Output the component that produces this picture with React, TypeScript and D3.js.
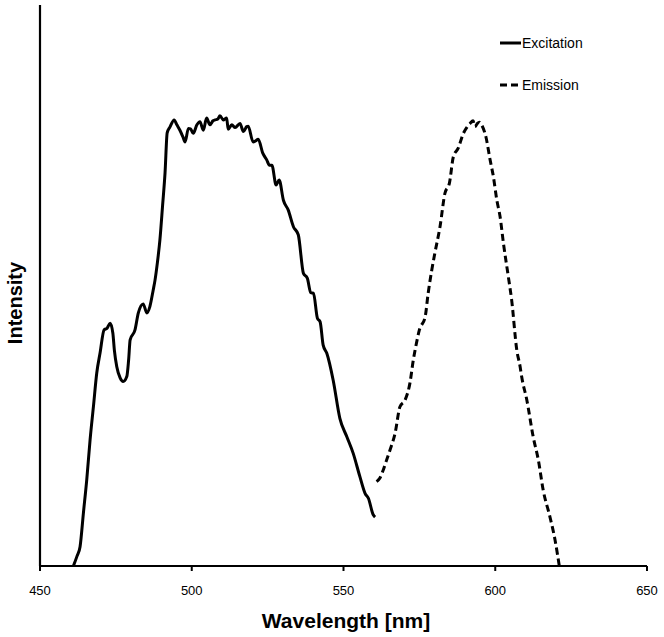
import React from "react";
import * as d3 from "d3";

const excitationNm = [461.0, 462.2, 463.2, 464.3, 465.4, 466.5, 467.6, 468.7, 469.8, 471.1, 472.1, 473.1, 474.0, 474.5, 475.3, 476.4, 477.4, 478.6, 479.2, 479.7, 481.3, 482.4, 484.0, 485.2, 486.2, 487.3, 487.9, 488.7, 489.5, 490.4, 491.2, 491.9, 492.8, 494.2, 495.1, 496.1, 497.1, 497.8, 498.9, 499.6, 500.5, 501.7, 502.7, 503.8, 504.9, 506.0, 507.0, 507.7, 508.6, 509.3, 510.4, 511.5, 512.0, 513.2, 514.3, 515.9, 517.0, 518.1, 518.6, 520.2, 521.0, 521.9, 523.4, 524.7, 525.6, 526.4, 527.8, 528.8, 530.2, 531.8, 533.5, 535.1, 536.8, 538.1, 539.2, 540.1, 541.4, 542.3, 543.3, 544.5, 546.6, 548.8, 551.1, 553.2, 555.4, 557.1, 558.2, 559.8, 560.4];
const excitationI = [0.0, 0.022, 0.043, 0.118, 0.192, 0.281, 0.355, 0.43, 0.475, 0.526, 0.53, 0.541, 0.519, 0.481, 0.444, 0.419, 0.411, 0.422, 0.459, 0.504, 0.526, 0.564, 0.584, 0.564, 0.578, 0.615, 0.637, 0.677, 0.726, 0.804, 0.876, 0.965, 0.978, 0.994, 0.983, 0.971, 0.956, 0.945, 0.975, 0.974, 0.964, 0.983, 0.99, 0.971, 0.998, 0.983, 0.992, 0.994, 0.996, 1.003, 0.994, 0.998, 0.973, 0.983, 0.977, 0.986, 0.968, 0.979, 0.98, 0.945, 0.947, 0.951, 0.92, 0.905, 0.893, 0.893, 0.849, 0.86, 0.815, 0.793, 0.756, 0.738, 0.652, 0.641, 0.609, 0.608, 0.552, 0.544, 0.492, 0.474, 0.414, 0.329, 0.288, 0.251, 0.199, 0.162, 0.151, 0.114, 0.109];

const emissionNm = [560.9, 562.0, 563.1, 564.0, 565.3, 567.0, 568.6, 570.3, 571.9, 573.0, 573.9, 575.0, 576.9, 577.9, 579.1, 580.1, 581.8, 583.4, 584.9, 586.2, 587.8, 589.5, 590.7, 591.7, 592.7, 593.3, 594.1, 594.8, 595.5, 596.9, 598.3, 599.4, 600.5, 601.6, 602.7, 604.3, 605.4, 607.1, 608.2, 608.7, 610.4, 612.5, 614.2, 615.8, 618.0, 619.7, 621.1];
const emissionI = [0.188, 0.196, 0.214, 0.232, 0.258, 0.296, 0.355, 0.37, 0.408, 0.459, 0.492, 0.526, 0.555, 0.608, 0.66, 0.697, 0.756, 0.83, 0.853, 0.912, 0.931, 0.964, 0.978, 0.986, 0.992, 0.979, 0.986, 0.989, 0.983, 0.957, 0.905, 0.867, 0.816, 0.778, 0.719, 0.645, 0.593, 0.481, 0.444, 0.422, 0.37, 0.288, 0.236, 0.169, 0.11, 0.058, 0.0];

const xTicks = [450, 500, 550, 600, 650];
const seriesNames = ["Excitation", "Emission"];

const W = 664, H = 637;
const m = { left: 40, right: 17, top: 5, bottom: 71 };

export default function App() {
  const x = d3.scaleLinear().domain([450, 650]).range([m.left, W - m.right]);
  const y = d3.scaleLinear().domain([0, 1.25]).range([H - m.bottom, m.top]);
  const line = d3.line<[number, number]>().x(d => x(d[0])).y(d => y(d[1])).curve(d3.curveMonotoneX);
  const exc: [number, number][] = excitationNm.map((n, i) => [n, excitationI[i]]);
  const em: [number, number][] = emissionNm.map((n, i) => [n, emissionI[i]]);
  const y0 = y(0);
  const font = "'Liberation Sans', Arial, sans-serif";
  return (
    <svg width={W} height={H} style={{ position: "absolute", left: 0, top: 0, background: "#fff" }} fontFamily={font}>
      <rect width={W} height={H} fill="#fff" />
      <path d={line(exc) || ""} fill="none" stroke="#000" strokeWidth={3} strokeLinejoin="round" />
      <path d={line(em) || ""} fill="none" stroke="#000" strokeWidth={3} strokeDasharray="7,4" />
      <line x1={m.left} x2={m.left} y1={m.top} y2={y0} stroke="#000" strokeWidth={2.2} />
      <line x1={m.left} x2={W - m.right} y1={y0} y2={y0} stroke="#000" strokeWidth={2.2} />
      {xTicks.map(t => (
        <g key={t}>
          <line x1={x(t)} x2={x(t)} y1={y0} y2={y0 + 5} stroke="#000" strokeWidth={2} />
          <text x={x(t)} y={y0 + 29} textAnchor="middle" fontSize={13} fill="#000">{t}</text>
        </g>
      ))}
      <text x={346} y={628} textAnchor="middle" fontSize={21} fontWeight="bold" fill="#000">Wavelength [nm]</text>
      <text transform={`translate(22,303) rotate(-90)`} textAnchor="middle" fontSize={20} fontWeight="bold" fill="#000">Intensity</text>
      <g>
        <line x1={500} x2={521} y1={43} y2={43} stroke="#000" strokeWidth={3} />
        <text x={522} y={48} fontSize={14} fill="#000">{seriesNames[0]}</text>
        <line x1={500} x2={521} y1={85} y2={85} stroke="#000" strokeWidth={3} strokeDasharray="7,4" />
        <text x={522} y={90} fontSize={14} fill="#000">{seriesNames[1]}</text>
      </g>
    </svg>
  );
}
